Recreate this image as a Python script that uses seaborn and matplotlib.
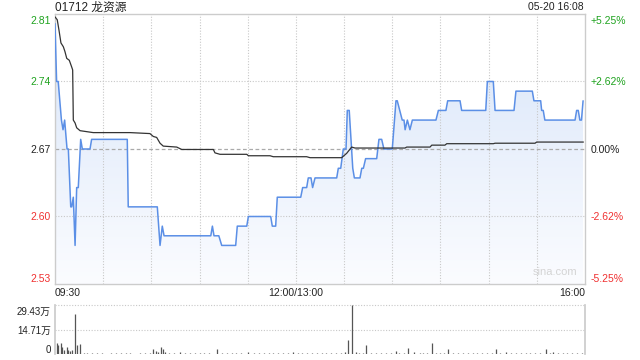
import numpy as np
import pandas as pd
import seaborn as sns
import matplotlib
matplotlib.use('Agg')
import matplotlib.pyplot as plt
from matplotlib.colors import LinearSegmentedColormap
from matplotlib.transforms import ScaledTranslation

# ---------------- data (minutes since 09:30, lunch break removed) ----------------
price_min = [0, 1, 2, 4, 5, 6, 7.5, 8.3, 9.8, 10.4, 11.4, 12.5, 13.5, 14.5, 16, 17,
             21.8, 22.8, 45, 45.6, 63.7, 65.4, 66.8, 67.9, 97, 98, 99, 102, 103.8,
             112.5, 113.5, 119.4, 120.4, 134.3, 135.3, 137.4, 138.4, 153, 154.2,
             156.7, 157.7, 159.4, 160.4, 161.9, 175.4, 176.4, 177.9, 179.5, 181.2,
             182, 183.2, 185.4, 186.4, 189.9, 191, 192, 193.4, 200.3, 201.7, 203.4,
             204.8, 210, 212.3, 213.1, 216.2, 217.3, 218, 219.4, 221, 222.5, 237.2,
             238.7, 243.4, 244.5, 252.2, 253.2, 268.2, 269.2, 272.9, 274, 285.8, 287,
             297.2, 298.2, 302.4, 303, 304, 305, 323.8, 324.8, 325.8, 326.8, 327.8,
             328.8]
price_val = [2.80, 2.74, 2.74, 2.70, 2.69, 2.70, 2.67, 2.67, 2.61, 2.61, 2.62, 2.57, 2.63, 2.63, 2.68, 2.67,
             2.67, 2.68, 2.68, 2.61, 2.61, 2.57, 2.59, 2.58, 2.58, 2.59, 2.58, 2.58, 2.57,
             2.57, 2.59, 2.59, 2.60, 2.60, 2.59, 2.59, 2.62, 2.62, 2.63,
             2.63, 2.64, 2.64, 2.63, 2.64, 2.64, 2.65, 2.65, 2.67, 2.67,
             2.71, 2.71, 2.65, 2.64, 2.64, 2.65, 2.65, 2.66, 2.66, 2.68, 2.68,
             2.67, 2.67, 2.72, 2.72, 2.70, 2.70, 2.69, 2.70, 2.69, 2.70, 2.70,
             2.71, 2.71, 2.72, 2.72, 2.71, 2.71, 2.74, 2.74, 2.71, 2.71, 2.73,
             2.73, 2.72, 2.72, 2.71, 2.71, 2.70, 2.70, 2.71, 2.71, 2.70, 2.70,
             2.72]

avg_min = [0, 1.4, 2.5, 3.7, 5.2, 6.2, 7.3, 8.9, 10.4, 11, 11.4, 12.5, 13.5, 15.6,
           23.8, 46.7, 59.1, 61.2, 63.3, 65.4, 67.4, 75.8, 78.9, 98.6, 99.6, 102.7,
           119.4, 120.4, 133.9, 135.9, 156.7, 158.8, 178.5, 181.6, 184.7, 186.8,
           217.9, 219, 233.5, 234.6, 242.8, 243.9, 272.9, 274, 298.9, 299.9, 329]
avg_val = [2.807, 2.804, 2.793, 2.780, 2.776, 2.771, 2.764, 2.762, 2.755, 2.752, 2.700, 2.697, 2.692, 2.689,
           2.687, 2.687, 2.686, 2.683, 2.682, 2.676, 2.673, 2.672, 2.6695, 2.6695, 2.666, 2.6645,
           2.6645, 2.663, 2.663, 2.662, 2.662, 2.661, 2.661, 2.6655, 2.672, 2.671,
           2.671, 2.672, 2.672, 2.674, 2.674, 2.6755, 2.6755, 2.676, 2.676, 2.6772, 2.6772]

vol_min = [1, 2, 3.5, 4.5, 5.6, 7.3, 8.3, 9.3, 10.4, 12.5, 14, 15.6,
           18, 20, 23, 26, 29, 32, 35, 38, 41, 44, 47, 50, 53, 56, 59,
           61.2, 62.7, 64.3, 66, 67, 68.5,
           71, 74, 77.8, 81, 84, 87, 90, 93, 96,
           100.7, 104, 107, 110, 113, 116, 120.4,
           124, 127, 130, 133, 136, 139, 142, 145, 148.4,
           151, 154, 157, 160, 163, 166, 169, 172, 175, 178,
           180.6, 182.6, 185.1, 187.2, 189, 192, 193.9,
           197, 200, 203, 206, 209, 212.3, 214.2, 217, 220, 223.7, 227, 229, 231.8,
           234.9, 237, 239.7, 242, 244.9,
           248, 251, 254, 257, 260, 263, 266, 269, 272, 274.6, 277, 280.8,
           284, 287, 290, 293, 296, 299, 302, 305.5, 308, 310.3,
           313, 316, 319, 322, 325, 328]
vol_val = [6.4, 5.4, 6.8, 4.4, 2.4, 4.4, 2.4, 1.8, 2.4, 24.0, 5.4, 6.0,
           0.5, 0.4, 0.6, 0.4, 0.5, 0.3, 0.6, 0.4, 0.5, 0.4, 0.6, 0.3, 0.5, 0.4, 0.6,
           2.8, 1.6, 1.4, 4.0, 2.8, 1.2,
           0.5, 0.6, 1.0, 0.4, 0.6, 0.5, 0.4, 0.7, 0.5,
           3.0, 0.6, 0.5, 0.4, 0.6, 0.5, 1.0,
           0.5, 0.4, 0.6, 0.5, 0.4, 0.6, 0.5, 0.4, 1.0,
           0.5, 0.6, 0.4, 0.5, 0.6, 0.4, 0.5, 0.6, 0.4, 0.7,
           1.0, 8.4, 29.43, 1.4, 0.6, 0.8, 5.4,
           0.5, 0.6, 0.4, 0.5, 0.6, 1.6, 0.8, 0.5, 3.4, 1.0, 0.5, 0.6, 0.8,
           6.8, 0.5, 0.8, 0.5, 3.0,
           0.5, 0.4, 0.6, 0.5, 0.4, 0.6, 0.5, 0.4, 0.6, 3.0, 0.5, 1.4,
           0.5, 0.6, 0.4, 0.5, 0.6, 0.4, 0.5, 3.0, 0.5, 1.4,
           0.5, 0.6, 0.4, 0.5, 0.6, 0.5]

price_ticks = [2.53, 2.60, 2.67, 2.74, 2.81]
price_labels = ['2.53', '2.60', '2.67', '2.74', '2.81']
pct_labels = ['-5.25%', '-2.62%', '0.00%', '+2.62%', '+5.25%']
vol_ticks = [0, 14.71, 29.43]
vol_labels = ['0', '14.71万', '29.43万']
time_ticks = [0, 150, 330]
time_labels = ['09:30', '12:00/13:00', '16:00']
title = '01712 龙资源'
stamp = '05-20 16:08'
prev_close = 2.67

# ---------------- style ----------------
sns.set_theme(style='white')
plt.rcParams['font.family'] = ['Liberation Sans', 'Noto Sans CJK SC', 'DejaVu Sans']

GREEN = '#1fa31f'
RED = '#f03030'
GRID = '#c8c8c8'
SPINE = '#cccccc'
tick_colors = [RED, RED, '#222222', GREEN, GREEN]
label_shift = [6 / 100, 0, 0, 0, -6 / 100]   # inches, edge labels pulled inwards

fig = plt.figure(figsize=(6.4, 3.6), dpi=100)
ax = fig.add_axes([55 / 640, 76 / 360, 530 / 640, 270 / 360])
vax = fig.add_axes([55 / 640, 6 / 360, 530 / 640, 49 / 360])

df_p = pd.DataFrame({'t': price_min, 'p': price_val})
df_a = pd.DataFrame({'t': avg_min, 'p': avg_val})
df_v = pd.DataFrame({'t': vol_min, 'v': vol_val})

ymin, ymax = price_ticks[0], price_ticks[-1]

# gradient fill under price line
poly = ax.fill_between(df_p['t'], df_p['p'], ymin, color='none', lw=0)
grad = np.linspace(0, 1, 256).reshape(-1, 1)
cmap = LinearSegmentedColormap.from_list('g', ['#d8e5f9', '#fbfcff'])
im = ax.imshow(grad, extent=[0, 330, ymin, ymax], aspect='auto', cmap=cmap,
               origin='upper', zorder=1)
im.set_clip_path(poly.get_paths()[0], transform=ax.transData)

# grid lines
for t in range(30, 330, 30):
    ax.axvline(t, color=GRID, lw=0.8, ls=(0, (1, 1.5)), zorder=2)
for p in [2.60, 2.74]:
    ax.axhline(p, color=GRID, lw=0.8, ls=(0, (1, 1.5)), zorder=2)
ax.axhline(prev_close, color='#aaaaaa', lw=0.9, ls=(0, (3, 2)), zorder=2)

sns.lineplot(data=df_p, x='t', y='p', ax=ax, color='#5b8fe6', lw=1.1, zorder=4)
sns.lineplot(data=df_a, x='t', y='p', ax=ax, color='#333333', lw=0.9, zorder=5)

ax.set_xlim(0, 330)
ax.set_ylim(ymin, ymax)
ax.set_xlabel('')
ax.set_ylabel('')
for s in ax.spines.values():
    s.set_color(SPINE)
    s.set_linewidth(1.0)

ax.set_xticks(time_ticks)
ax.set_xticklabels(time_labels, fontsize=7.5, color='#222222')
ax.tick_params(axis='x', length=0, pad=3)
xl = ax.get_xticklabels()
xl[0].set_ha('left')
xl[2].set_ha('right')

ax.set_yticks(price_ticks)
ax.set_yticklabels(price_labels, fontsize=7.5)
ax.tick_params(axis='y', length=0, pad=3)
for lab, c, dy in zip(ax.get_yticklabels(), tick_colors, label_shift):
    lab.set_color(c)
    lab.set_transform(lab.get_transform() + ScaledTranslation(0, dy, fig.dpi_scale_trans))

rax = ax.twinx()
rax.set_ylim(ymin, ymax)
rax.set_yticks(price_ticks)
rax.set_yticklabels(pct_labels, fontsize=7.5)
rax.tick_params(axis='y', length=0, pad=4)
for lab, c, dy in zip(rax.get_yticklabels(), tick_colors, label_shift):
    lab.set_color(c)
    lab.set_transform(lab.get_transform() + ScaledTranslation(0, dy, fig.dpi_scale_trans))
for s in rax.spines.values():
    s.set_visible(False)
rax.grid(False)

ax.text(0.943, 0.025, 'sina.com', transform=ax.transAxes, ha='center', va='bottom',
        fontsize=8, color='#d4d4d4', zorder=6)

fig.text(55 / 640, 1 - 7.5 / 360, title, ha='left', va='center', fontsize=8.5, color='#222222')
fig.text(584 / 640, 1 - 7.5 / 360, stamp, ha='right', va='center', fontsize=7.5, color='#222222')

# ---------------- volume ----------------
vax.vlines(df_v['t'], 0, df_v['v'], color='#555555', lw=0.9)
vax.set_xlim(0, 330)
vax.set_ylim(0, vol_ticks[-1])
for v in vol_ticks[1:]:
    vax.axhline(v, color=GRID, lw=0.8, ls=(0, (1, 1.5)), clip_on=False, zorder=0)
vax.set_xticks([])
vax.set_yticks(vol_ticks)
vax.set_yticklabels(vol_labels, fontsize=7, color='#222222')
vax.tick_params(axis='y', length=0, pad=3)
offsets = [5 / 100, 0, -6 / 100]
for lab, dy in zip(vax.get_yticklabels(), offsets):
    lab.set_transform(lab.get_transform() + ScaledTranslation(0, dy, fig.dpi_scale_trans))
vax.spines['top'].set_visible(False)
vax.spines['bottom'].set_visible(False)
vax.spines['left'].set_color(SPINE)
vax.spines['right'].set_color(SPINE)
vax.set_facecolor('none')

fig.savefig('out.png', dpi=100)
